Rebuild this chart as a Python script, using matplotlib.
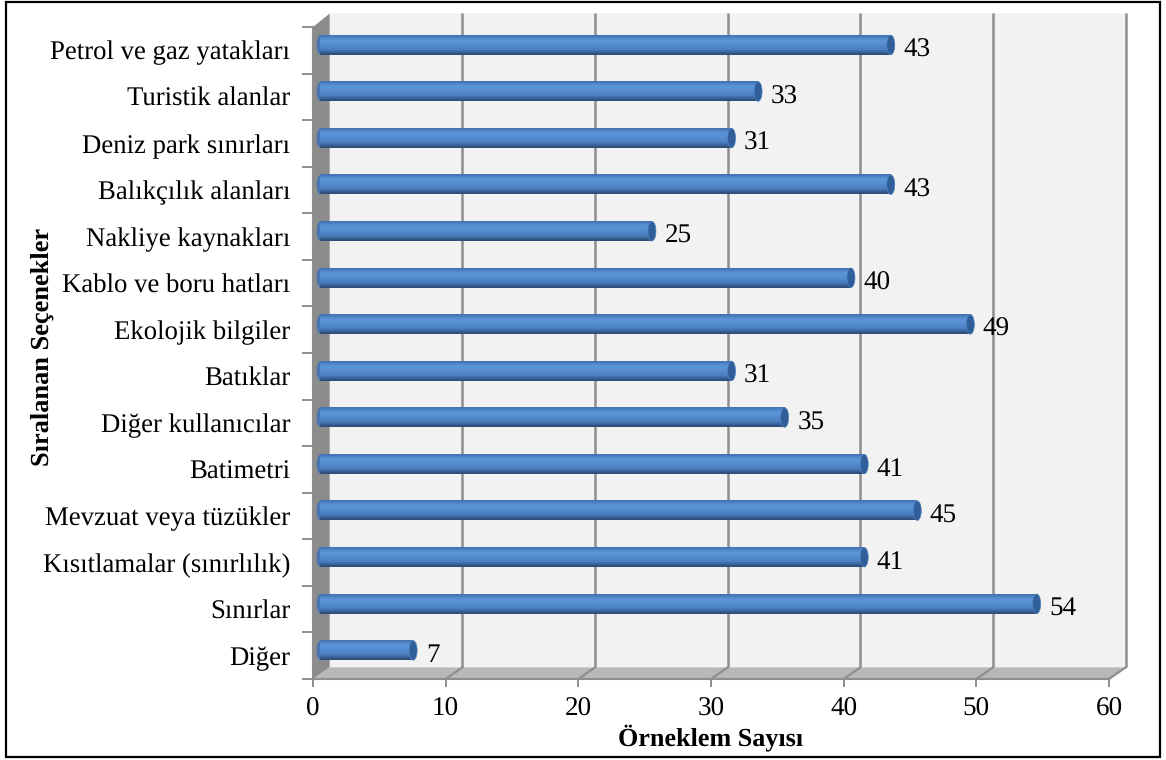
import matplotlib
matplotlib.use("Agg")
import matplotlib.pyplot as plt
import numpy as np
from matplotlib.patches import Ellipse, Polygon, Rectangle

categories = ["Diğer", "Sınırlar", "Kısıtlamalar (sınırlılık)", "Mevzuat veya tüzükler",
              "Batimetri", "Diğer kullanıcılar", "Batıklar", "Ekolojik bilgiler",
              "Kablo ve boru hatları", "Nakliye kaynakları", "Balıkçılık alanları",
              "Deniz park sınırları", "Turistik alanlar", "Petrol ve gaz yatakları"]
values = [7, 54, 41, 45, 41, 35, 31, 49, 40, 25, 43, 31, 33, 43]
xticks = [0, 10, 20, 30, 40, 50, 60]

plt.rcParams["font.family"] = ["Liberation Serif", "DejaVu Serif"]
plt.rcParams["text.hinting"] = "none"
W, H = 1166, 760
fig = plt.figure(figsize=(W / 100, H / 100), dpi=100)
fig.add_artist(Rectangle((5.5 / W, 1 - 756.5 / H), 1154 / W, 755 / H, transform=fig.transFigure,
                         fc="none", ec="black", lw=1.6))

ax = fig.add_axes([313 / W, 1 - 679 / H, 796 / W, 652 / H])
ax.patch.set_visible(False)
ax.set_xlim(0, 60)
ax.set_ylim(-0.5, 13.5)
for s in ax.spines.values():
    s.set_visible(False)

# depth of the fake 3d box, in data units
dx, dy = 1.26, 0.25
y0, y1 = -0.5, 13.5
grey = "#8e8e8e"
ax.add_patch(Polygon([(dx, y0 + dy), (60 + dx, y0 + dy), (60 + dx, y1 + 0.29), (dx, y1 + 0.29)],
                     fc="#f2f2f2", ec="none", zorder=1, clip_on=False))
ax.add_patch(Polygon([(0, y0), (dx, y0 + dy), (dx, y1 + 0.29), (0, y1)], fc="#8c8c8c", ec="none",
                     zorder=2, clip_on=False))
ax.add_patch(Polygon([(0, y0), (60, y0), (60 + dx, y0 + dy), (dx, y0 + dy)], fc="#b8b8b8", ec="none",
                     zorder=2, clip_on=False))
for t in xticks[1:]:
    ax.plot([t + dx, t + dx], [y0 + dy, y1 + 0.29], color=grey, lw=1.8, zorder=3,
            solid_capstyle="butt", clip_on=False)
    ax.plot([t, t + dx], [y0, y0 + dy], color=grey, lw=1.6, zorder=3, clip_on=False)
ax.plot([0, 60], [y0, y0], color=grey, lw=1.5, zorder=3, clip_on=False)
ax.plot([0, 0], [y0, y1], color=grey, lw=1.5, zorder=3, clip_on=False)

stops = np.array([[0.27, 0.46, 0.70], [0.32, 0.54, 0.80], [0.36, 0.58, 0.85], [0.35, 0.57, 0.84],
                  [0.33, 0.55, 0.81], [0.31, 0.52, 0.78], [0.29, 0.49, 0.74], [0.24, 0.41, 0.63],
                  [0.18, 0.31, 0.48]])
grad = stops[:, None, :]
off, lift, bh = 0.55, 0.115, 0.42
for i, v in enumerate(values):
    yc = i + lift
    ax.imshow(grad, extent=(off, v + off, yc - bh / 2, yc + bh / 2), aspect="auto",
              interpolation="bilinear", zorder=5)
    ax.add_patch(Ellipse((off, yc), 0.55, bh, fc="#4677b3", ec="none", zorder=4))
    ax.add_patch(Ellipse((v + off, yc), 0.6, bh, fc="#2f5e98", ec="#4f82c0", lw=0.5, zorder=6))
    ax.text(v + 1.5, i, str(v), fontsize=19.5, va="center", ha="left", color="black", zorder=7)
ax.set_xlim(0, 60)
ax.set_ylim(-0.5, 13.5)

ax.set_xticks(xticks)
ax.set_yticks(np.arange(-0.5, 14, 1))
ax.set_yticklabels([])
ax.set_yticks(np.arange(0, 14), labels=categories, minor=True)
ax.tick_params(axis="x", length=6, width=1.4, color=grey, labelsize=19.5, pad=7)
ax.tick_params(axis="y", which="major", length=8, width=1.4, color=grey)
ax.tick_params(axis="y", which="minor", length=0, labelsize=19.3, pad=16.5)
ax.set_xlabel("Örneklem Sayısı", fontsize=18.8, fontweight="bold")
ax.xaxis.set_label_coords(0.5, -0.07)
ax.set_ylabel("Sıralanan Seçenekler", fontsize=19, fontweight="bold")
ax.yaxis.set_label_coords(-0.325, 0.51)

fig.savefig("out.png", dpi=100)
